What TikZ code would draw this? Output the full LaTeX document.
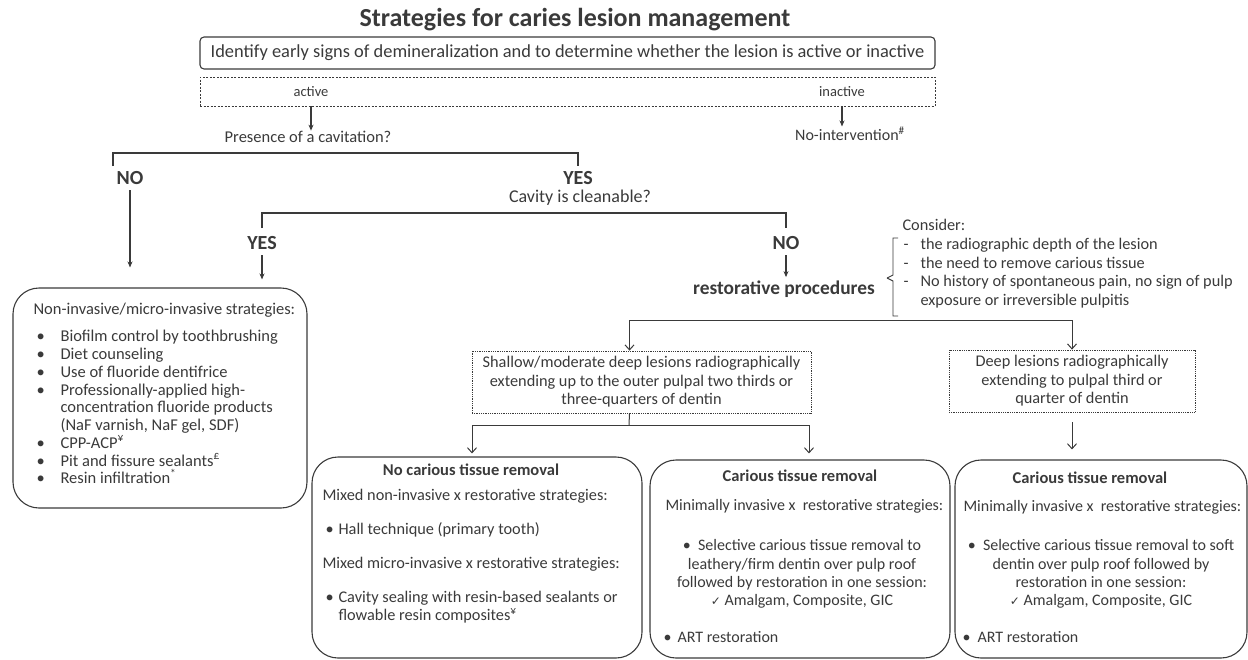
\documentclass[tikz,border=0pt]{standalone}
\usepackage{fontspec}
\setmainfont{Carlito}
\newfontfamily\checkfont{DejaVu Sans}
\usetikzlibrary{arrows.meta}

\definecolor{ink}{HTML}{3A3A3A}
\newcommand{\dotitem}[1][27pt]{\makebox[#1][l]{\hspace{3pt}\textbullet}}
\newcommand{\dashitem}{\makebox[18pt][l]{\hspace{1pt}-}}
\newcommand{\tick}{{\checkfont\fontsize{12}{12}\selectfont ✓}}

\tikzset{
	txt/.style = {inner sep=0pt, font=\fontsize{16.5}{17.75}\selectfont},
	boxtxt/.style = {inner sep=0pt, font=\fontsize{16}{18.3}\selectfont},
	smalltxt/.style = {inner sep=0pt, font=\fontsize{14.5}{15}\selectfont},
	asktxt/.style = {inner sep=0pt, font=\fontsize{16.5}{20}\selectfont},
	considertxt/.style = {inner sep=0pt, font=\fontsize{16.3}{18.7}\selectfont},
	boldtxt/.style = {inner sep=0pt, font=\fontsize{19.4}{22}\selectfont\bfseries},
	yesno/.style = {inner sep=0pt, font=\fontsize{20}{22}\selectfont\bfseries},
	boxtitle/.style = {inner sep=0pt, font=\fontsize{16.5}{18}\selectfont\bfseries},
	roundbox/.style = {draw, line width=1.1pt, rounded corners=26pt},
	dottedbox/.style = {draw, line width=0.8pt, densely dotted, inner sep=0pt,
		font=\fontsize{16.3}{18.5}\selectfont},
	solidarrow/.style = {line width=1.2pt, -{Stealth[length=6pt,width=5pt]}},
	openarrow/.style = {line width=1pt, -{Straight Barb[length=5pt,width=9pt]}}
}

\begin{document}
\begin{tikzpicture}[x=1pt, y=-1pt, color=ink, line width=1.1pt]
	\useasboundingbox (0,0) rectangle (1248,659);

	% activity of the lesion
	\node[inner sep=0pt, font=\fontsize{26}{28}\selectfont\bfseries] (title) at (575,20) {Strategies for caries lesion management};
	\node[inner sep=0pt, font=\fontsize{18.4}{20}\selectfont, draw, rounded corners=4pt, minimum width=735pt, minimum height=32pt] (identify) at (567.5,53)
		{Identify early signs of demineralization and to determine whether the lesion is active or inactive};
	\node[draw, line width=0.8pt, dash pattern=on 2pt off 1.5pt, minimum width=735pt, minimum height=29pt] (activity) at (567.5,91.5) {};
	\node[smalltxt] (active) at (311,92) {active};
	\node[smalltxt] (inactive) at (842,92) {inactive};
	\node[asktxt] (cavitation) at (308,137) {Presence of a cavitation?};
	\node[asktxt, font=\fontsize{16}{20}\selectfont] (nointerv) at (850,134) {No-intervention\textsuperscript{\#}};
	\draw[solidarrow] (active |- activity.south) -- (active |- cavitation.north);
	\draw[solidarrow] (inactive |- activity.south) -- (inactive |- nointerv.north);

	% cavitation yes / no
	\node[yesno] (no) at (130,178) {NO};
	\node[yesno] (yes) at (578,178) {YES};
	\node[asktxt, font=\fontsize{18}{20}\selectfont] (cleanable) at (580,198) {Cavity is cleanable?};
	\coordinate (nofork) at (113,166);
	\coordinate (yesfork) at (578,166);
	\draw (nofork) -- ++(0,-13) -| (yesfork);

	\node[roundbox, minimum width=294pt, minimum height=220pt] (noninv) at (160,398) {};
	\node[txt, anchor=north west, align=left] (noninvlist) at (33,302) {Non-invasive/micro-invasive strategies:\\[10pt]
		\dotitem Biofilm control by toothbrushing\\
		\dotitem Diet counseling\\
		\dotitem Use of fluoride dentifrice\\
		\dotitem Professionally-applied high-\\
		\hspace{27pt}concentration fluoride products\\
		\hspace{27pt}(NaF varnish, NaF gel, SDF)\\
		\dotitem CPP-ACP\textsuperscript{¥}\\
		\dotitem Pit and fissure sealants\textsuperscript{£}\\
		\dotitem Resin infiltration\textsuperscript{*}};
	\draw[solidarrow, shorten <=5pt, shorten >=20pt] (no.south) -- (no |- noninv.north);

	% cleanable yes / no
	\node[yesno] (yes2) at (262,243) {YES};
	\node[yesno] (no2) at (786,243) {NO};
	\coordinate (yesfork2) at (262,228);
	\coordinate (nofork2) at (786,228);
	\draw (yesfork2) -- ++(0,-15) -| (nofork2);
	\draw[solidarrow, shorten <=5pt, shorten >=8pt] (yes2.south) -- (yes2 |- noninv.north);
	\node[boldtxt] (restorative) at (784,289) {restorative procedures};
	\draw[solidarrow, shorten <=5pt, shorten >=3pt] (no2.south) -- (no2 |- restorative.north);

	\node[considertxt, anchor=north west, align=left] (consider) at (902,219) {Consider:\\
		\dashitem the radiographic depth of the lesion\\
		\dashitem the need to remove carious tissue\\
		\dashitem No history of spontaneous pain, no sign of pulp\\
		\hspace{18pt}exposure or irreversible pulpitis};
	\coordinate (bracetip) at (887,278);
	\draw[line width=0.9pt] (bracetip) -- ++(6,-3) |- ++(5,-37);
	\draw[line width=0.9pt] (bracetip) -- ++(6,3) |- ++(5,35);

	% depth of the lesion
	\node[dottedbox, minimum width=339pt, minimum height=62pt, align=center] (shallow) at (641.5,382)
		{Shallow/moderate deep lesions radiographically\\ extending up to the outer pulpal two thirds or\\ three-quarters of dentin};
	\node[dottedbox, minimum width=246pt, minimum height=62pt, align=center] (deep) at (1072,381)
		{Deep lesions radiographically\\ extending to pulpal third or\\ quarter of dentin};
	\coordinate (split) at (784,320);
	\draw[openarrow] (split) -| ([xshift=-12pt]shallow.north);
	\draw[openarrow] (split) -| (deep.north);

	\node[roundbox, minimum width=330pt, minimum height=201pt] (norem) at (477,557.5) {};
	\node[roundbox, minimum width=300pt, minimum height=198pt] (remmod) at (800,559) {};
	\node[roundbox, minimum width=292pt, minimum height=198pt] (remdeep) at (1101,559) {};
	\coordinate (split2) at (629,425);
	\draw[line width=1pt] ([xshift=-12pt]shallow.south) -- (split2);
	\draw[openarrow, shorten >=3pt] (split2) -| ([xshift=-5pt]norem.north);
	\draw[openarrow, shorten >=6pt] (split2) -| ([xshift=9pt]remmod.north);
	\draw[openarrow, shorten <=10pt, shorten >=10pt] (deep.south) -- (deep.south |- remdeep.north);

	% no carious tissue removal
	\node[boxtitle] (noremtitle) at (471,470) {No carious tissue removal};
	\node[boxtxt, font=\fontsize{16.3}{18}\selectfont, anchor=north west, align=left] (noremlist) at (322,489) {Mixed non-invasive x restorative strategies:\\[16pt]
		\dotitem[16pt]Hall technique (primary tooth)\\[16pt]
		Mixed micro-invasive x restorative strategies:\\[16pt]
		\dotitem[16pt]Cavity sealing with resin-based sealants or\\
		\hspace{16pt}flowable resin composites\textsuperscript{¥}};

	% carious tissue removal, moderate lesions
	\node[boxtitle] (remmodtitle) at (800,476) {Carious tissue removal};
	\node[boxtxt, anchor=west] (remmodlead) at (665,506) {Minimally invasive x\ \ restorative strategies:};
	\node[boxtxt, align=center] (remmodsel) at (802,574) {\textbullet\ \ Selective carious tissue removal to\\
		leathery/firm dentin over pulp roof\\ followed by restoration in one session:\\ \tick\ Amalgam, Composite, GIC};
	\node[boxtxt, anchor=west] (remmodart) at (660,637) {\dotitem[17pt]ART restoration};

	% carious tissue removal, deep lesions
	\node[boxtitle] (remdeeptitle) at (1090,478) {Carious tissue removal};
	\node[boxtxt, anchor=west] (remdeeplead) at (963,507) {Minimally invasive x\ \ restorative strategies:};
	\node[boxtxt, align=center] (remdeepsel) at (1101,574) {\textbullet\ \ Selective carious tissue removal to soft\\
		dentin over pulp roof followed by\\ restoration in one session:\\ \tick\ Amalgam, Composite, GIC};
	\node[boxtxt, anchor=west] (remdeepart) at (959,637) {\dotitem[18pt]ART restoration};
\end{tikzpicture}
\end{document}
